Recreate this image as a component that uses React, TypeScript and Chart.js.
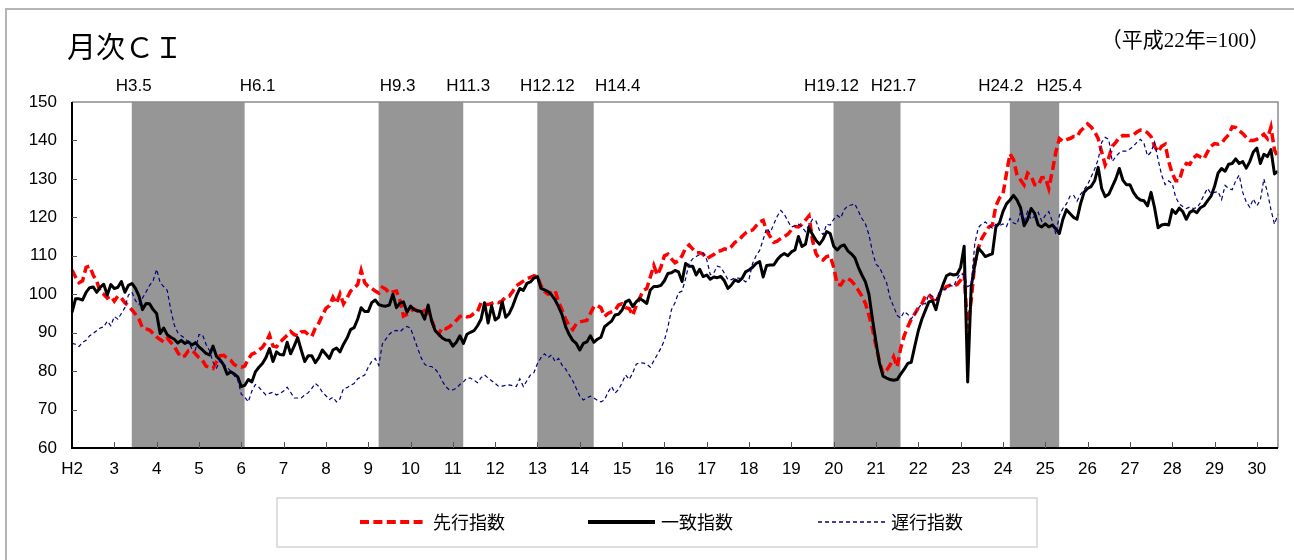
import React, { useEffect, useRef } from "react";
import { Chart, registerables } from "chart.js";

Chart.register(...registerables);

// Monthly categories: H2.1 (Jan 1990) ... H30.7
const MONTH_LABELS: string[] = [];
for (let y = 2; y <= 30; y++) {
  for (let m = 1; m <= 12; m++) {
    if (y === 30 && m > 7) break;
    MONTH_LABELS.push(`H${y}.${m}`);
  }
}

// 先行指数 (leading index)
const LEADING: number[] = [
  106.3, 104.5, 103, 103.5, 107, 107.3, 105, 103.4, 100.7, 100, 99, 99.5,
  98.2, 99.5, 99, 97.8, 97, 95.9, 94.8, 93.5, 91.2, 91, 90.7, 89.8,
  88.9, 88.2, 87.6, 88.6, 87.5, 86.5, 84.8, 83.6, 84, 85.3, 85.5, 84.5,
  83.5, 82.8, 81.3, 81, 80.7, 82.5, 84, 84.1, 83.4, 82.8, 81.7, 81.2,
  81, 81.3, 83.2, 84.4, 84.8, 85.5, 86.2, 87.5, 89.4, 86.5, 86.3, 87.5,
  88.4, 89.3, 90.3, 89.5, 89.2, 90.2, 90.3, 89.5, 89, 91.2, 92.5, 94.5,
  96.3, 97, 99.2, 97.6, 100.1, 97.5, 99, 100.8, 101.6, 102.5, 106.2, 103,
  102, 101.5, 100.8, 100.3, 101.8, 101.3, 100.2, 100.6, 100.8, 98.4, 94.3, 94.8,
  95.5, 96.2, 95.6, 95.3, 95.8, 95.2, 93.2, 91, 89.6, 91.3, 91, 91.5,
  92.3, 93.2, 94.2, 94.5, 94.1, 94.3, 95, 95.5, 97.8, 97.3, 97.3, 97.6,
  98, 97.8, 98.3, 99.3, 99.5, 100.8, 102.2, 102.8, 103.4, 104, 104.4, 104.8,
  104.6, 102.2, 100.7, 100, 100.5, 101, 98, 95.8, 93.5, 91.8, 90.8, 92.3,
  92.8, 93, 93.2, 95, 96.8, 97.1, 96.5, 94.2, 95, 95.4, 95.8, 97.2,
  97.5, 96.5, 96.3, 94.5, 97, 99, 101, 101.5, 104.5, 107.5, 105, 107,
  110, 110.4, 109.2, 108.2, 108.7, 110, 112, 112.8, 111.8, 110.8, 110.8, 110.4,
  109.2, 109.8, 110.3, 111.2, 111.3, 111.8, 111.6, 112.4, 113.5, 114, 115, 115.9,
  116.5, 116.7, 117.8, 118.8, 119.2, 116.5, 115, 113.5, 113.8, 114.5, 115, 115.6,
  116.7, 117.6, 117.5, 118.2, 119.3, 120.4, 114, 110.5, 109.2, 108.9, 109.8, 110,
  107, 102.6, 102.4, 103.8, 104.1, 103.5, 102.4, 101, 99.5, 97.6, 94.5, 91,
  86.5, 82.5, 79.4, 80.2, 81.6, 83.7, 81.1, 86, 89.2, 91.5, 93.5, 94.9,
  96.5, 97.5, 99.5, 100, 98.8, 97.7, 100, 101, 102, 102.3, 102.1, 102.5,
  103.7, 105.4, 91, 98.5, 108, 112, 114.5, 116, 117.5, 118, 123, 125,
  126, 131.4, 136.5, 135, 131, 129.7, 128.4, 131.5, 130.7, 128.5, 128.3, 130.3,
  130.4, 127.5, 132, 137, 140.5, 139.8, 140.2, 140.5, 141, 141, 142.5, 143.3,
  144.3, 143.5, 142.3, 140.5, 137, 133.6, 135.5, 138.5, 139.5, 140.8, 141.3, 141.2,
  141.3, 141.5, 142.2, 142.7, 142.6, 142, 141, 138.5, 137, 138.5, 139, 134.5,
  131.5, 129.5, 129.5, 132.7, 134, 133.8, 135.5, 136.2, 135.7, 135.2, 137, 138.5,
  139.2, 139, 139.3, 140.5, 141.5, 143.5, 143.4, 142.5, 141.8, 140.8, 140, 140,
  140.3, 140.8, 141.6, 140.5, 143.5, 137.5, 135.6,
];

// 一致指数 (coincident index)
const COINCIDENT: number[] = [
  95.3, 98.8, 98.8, 98.5, 100.5, 101.7, 101.9, 100.5, 101.8, 102.6, 99.8, 102.5,
  101.5, 101.8, 103.3, 100.5, 102.3, 102.8, 101.5, 99.5, 96, 97.6, 97.5, 96,
  95, 89.8, 91.2, 89.5, 88.8, 88.3, 87.3, 88, 87.2, 87.6, 86.8, 87.4,
  86.3, 85.5, 84.6, 84.2, 86.5, 83.8, 82.9, 81.6, 79.2, 79.8, 79.3, 78.5,
  76, 76.3, 77.8, 77.2, 79.8, 81, 82, 83.5, 85.9, 82.5, 85, 84.3,
  84.2, 87.5, 84.5, 86.5, 88.7, 85.5, 82.5, 84, 84, 82.2, 83.5, 85.5,
  84.4, 83.3, 85.5, 86, 85, 87, 88.6, 90.8, 91.3, 93.5, 96.5, 95.5,
  95.5, 97.8, 98.5, 97.3, 97, 96.9, 97.2, 100, 96.5, 97.7, 98, 95.3,
  96.9, 96, 95.7, 95.5, 93.5, 97.2, 93, 90.5, 89.6, 88.6, 88.1, 88,
  86.5, 87.5, 89.2, 87.2, 89.6, 90.1, 90.5, 91.8, 93.5, 97.8, 92.5, 97,
  93.3, 94, 98, 94, 95, 97, 99.5, 101.5, 101, 102.8, 103.2, 104.2,
  104.6, 101.5, 101.1, 100.7, 99.8, 98.5, 96.7, 94.6, 91.5, 89.5, 88, 87.2,
  85.5, 87.2, 87.6, 89.2, 87.5, 88.3, 88.8, 91.5, 92.3, 93, 94.6, 94.8,
  95.9, 98, 98.5, 96.8, 98, 98.9, 98.3, 97.6, 101.1, 102, 102, 102.3,
  103.5, 105.4, 105.6, 106.2, 105.8, 103.3, 108, 107.3, 107.3, 105, 106.5, 104.6,
  105, 103.9, 104.5, 104.3, 104.6, 103.5, 101.5, 102.4, 103.7, 103.3, 104.1, 105.8,
  106.3, 107, 108, 108.5, 104.5, 107.5, 107.6, 107.6, 109, 110, 110.6, 110,
  111, 111.5, 115, 112.4, 113, 117.3, 115.5, 114, 113, 114.3, 116.3, 115.8,
  112.5, 111.5, 112.5, 112.8, 111.3, 110.5, 109.5, 107, 105, 103.2, 100, 93.5,
  87.5, 82, 78.7, 78.2, 77.8, 77.6, 77.8, 79.2, 80.5, 82, 82.3, 86.5,
  90.5, 93.5, 95.8, 98, 98.3, 96, 99.8, 102.5, 104.8, 105.3, 105, 105.2,
  107, 112.5, 77.2, 102, 107.5, 112, 111, 109.8, 110.2, 110.5, 117.5, 118.5,
  121.5, 123.5, 124.5, 125.7, 124.5, 122.5, 117.8, 119.5, 122.3, 121, 118, 117.5,
  118.3, 117.5, 118, 117, 115.8, 119.5, 122, 121, 120, 119.5, 123.5, 126.5,
  127.5, 128, 129.5, 133, 127.5, 125.4, 126, 128, 130, 132.7, 129.7, 128.5,
  128.5, 126.5, 125.2, 124.5, 124.3, 123, 126.5, 122.5, 117.3, 118, 118.2, 118,
  122, 121, 122.4, 121.5, 119.5, 121.3, 121.8, 121.2, 122.5, 123, 124.3, 125.5,
  128, 131.5, 132.7, 132, 133.8, 134, 135.2, 134, 134.5, 132.8, 134.5, 137,
  138, 134, 136.4, 135.8, 137.6, 131.3, 132,
];

// 遅行指数 (lagging index)
const LAGGING: number[] = [
  87.2, 87, 86.4, 87.5, 88, 89.2, 89.8, 90.5, 91.2, 91.5, 93, 91.8,
  94.2, 93.5, 95, 96.5, 99.8, 100.5, 98.3, 97.3, 99, 100.6, 102.3, 103.5,
  106.5, 103, 102, 101, 96, 92, 90, 89.2, 88.5, 87.6, 85.8, 85.5,
  89.5, 89.5, 87, 85.3, 82.3, 80.8, 82.9, 81.8, 81, 80, 78.8, 77.8,
  74, 73.2, 72, 74.8, 76.5, 75.8, 74.8, 73.8, 74.2, 74.5, 73.8, 74.2,
  74.8, 75.8, 74.5, 73, 73, 73, 73.8, 74.4, 75.5, 76.8, 76, 74.5,
  73.6, 72.6, 73.2, 72, 72.8, 75.5, 75.7, 76.3, 76.8, 78, 78.5, 79,
  81, 82.5, 83.3, 81.5, 87, 88.3, 89.6, 90.4, 90.6, 90.2, 91.1, 91.6,
  91.2, 88.6, 86, 83.5, 81.8, 81.2, 81.2, 80.5, 79.4, 77.4, 76, 75.1,
  75.1, 75.6, 76.5, 77.2, 78.2, 78.2, 77.6, 77, 78.3, 79, 78.2, 77.5,
  76.8, 76, 76.1, 76.3, 76.4, 76.2, 76, 78, 76, 77.5, 79, 79.6,
  82, 83.5, 84.5, 83.5, 84.2, 82.5, 83.3, 81.5, 80.5, 79, 77.5, 75.5,
  73.5, 72.5, 73, 73.5, 73, 72.4, 72, 72.5, 74.5, 76, 74.3, 75.2,
  77, 79, 77.8, 79.5, 81.8, 82.2, 82.1, 81.8, 81, 82.7, 84.3, 86,
  88, 91.5, 96, 97.8, 100.4, 100.8, 104, 108, 109.2, 109.8, 110.3, 110.7,
  109, 105.1, 105.5, 107.3, 107, 105.5, 103.8, 103.8, 104.2, 104.2, 104, 103.2,
  104, 108, 110, 111.4, 114.2, 117.2, 116, 118.2, 120.3, 121.8, 120.8, 119,
  117.5, 117.8, 118.2, 117.5, 116.3, 118, 119.5, 119, 116.5, 115.5, 118.2, 118,
  119.5, 120.5, 119.8, 122, 123, 123.2, 123.5, 121.6, 119.7, 118.3, 115.5, 111,
  107.8, 107, 105, 103, 99, 96.8, 94.5, 93.8, 95.5, 94.8, 93.6, 94.8,
  96.3, 97.6, 97.5, 100, 99.5, 98.5, 100.6, 101.1, 101.5, 102.3, 102, 104.1,
  105.4, 105, 102, 102.5, 113, 117.3, 118.3, 118.8, 118, 117.2, 118.2, 117.8,
  118.3, 117.6, 119.7, 118.5, 118.2, 121.5, 119, 121.5, 119.5, 120.3, 121.3, 119,
  120.5, 121.5, 119, 115.6, 120.5, 122.3, 123.5, 125.5, 125.8, 124.2, 126, 127.2,
  128.5, 130.5, 132.5, 135, 139.5, 140.8, 140.3, 134.5, 135.8, 136.8, 137.2, 137.2,
  137.8, 138.5, 139.5, 140.3, 139.2, 136, 137, 139.6, 135, 131, 128.5, 129.5,
  128.8, 125.2, 123.5, 122.8, 122.3, 122.7, 122.3, 122.5, 123.8, 125.8, 127.5, 126.2,
  126.5, 126.7, 124.6, 128.3, 127.5, 127.2, 129.5, 131, 126.5, 124, 122.6, 124.8,
  123, 124.5, 130, 126.5, 122, 118.2, 120.8,
];

// Recession shading: peak / trough pairs (also the labels above the plot)
const BAND_MARKS: string[] = [
  "H3.5", "H6.1", "H9.3", "H11.3", "H12.12", "H14.4", "H19.12", "H21.7", "H24.2", "H25.4",
];

const SERIES_NAMES = ["先行指数", "一致指数", "遅行指数"];

const Y_MIN = 60;
const Y_MAX = 150;
const Y_STEP = 10;

// drawing-only settings
const BAND_SHIFT = 0.95;
const LABEL_SHIFT = [2, 13, 19, 5, 10, 24, -2, -7, -9, 0];
const TICK_FONT = "17px 'Liberation Sans', Arial, sans-serif";

const yearTickLabel = (i: number): string | null => {
  const lab = MONTH_LABELS[i];
  if (!lab || !lab.endsWith(".1")) return null;
  const yr = lab.slice(1, lab.indexOf("."));
  return i === 0 ? `H${yr}` : yr;
};

const overlayPlugin = {
  id: "overlayPlugin",
  beforeDatasetsDraw(chart: any) {
    const { ctx, chartArea: a, scales } = chart;
    const x = scales.x;
    ctx.save();
    ctx.fillStyle = "rgb(150,150,150)";
    for (let k = 0; k + 1 < BAND_MARKS.length; k += 2) {
      const i0 = MONTH_LABELS.indexOf(BAND_MARKS[k]);
      const i1 = MONTH_LABELS.indexOf(BAND_MARKS[k + 1]);
      const x0 = x.getPixelForValue(i0 + BAND_SHIFT);
      const x1 = x.getPixelForValue(i1 + BAND_SHIFT);
      ctx.fillRect(x0, a.top, x1 - x0, a.bottom - a.top);
    }
    ctx.restore();
  },
  afterDatasetsDraw(chart: any) {
    const { ctx, chartArea: a, scales } = chart;
    const x = scales.x;
    const y = scales.y;
    ctx.save();
    // borders
    ctx.lineWidth = 1.5;
    ctx.strokeStyle = "#8c8c8c";
    ctx.beginPath();
    ctx.moveTo(a.left, a.top);
    ctx.lineTo(a.right, a.top);
    ctx.lineTo(a.right, a.bottom);
    ctx.stroke();
    ctx.strokeStyle = "#000";
    ctx.lineWidth = 2;
    ctx.beginPath();
    ctx.moveTo(a.left, a.top);
    ctx.lineTo(a.left, a.bottom);
    ctx.lineTo(a.right, a.bottom);
    ctx.stroke();
    // inward ticks
    ctx.lineWidth = 1;
    ctx.strokeStyle = "#555";
    ctx.beginPath();
    for (let i = 12; i < MONTH_LABELS.length; i += 12) {
      const px = Math.round(x.getPixelForValue(i)) + 0.5;
      ctx.moveTo(px, a.bottom);
      ctx.lineTo(px, a.bottom - 6);
    }
    for (let v = Y_MIN + Y_STEP; v < Y_MAX; v += Y_STEP) {
      const py = Math.round(y.getPixelForValue(v)) + 0.5;
      ctx.moveTo(a.left, py);
      ctx.lineTo(a.left + 5, py);
    }
    ctx.stroke();
    // band labels
    ctx.fillStyle = "#000";
    ctx.font = TICK_FONT;
    ctx.textAlign = "center";
    ctx.textBaseline = "middle";
    BAND_MARKS.forEach((m, k) => {
      const idx = MONTH_LABELS.indexOf(m);
      const px = x.getPixelForValue(idx + BAND_SHIFT) + LABEL_SHIFT[k];
      ctx.fillText(m, px, 86);
    });
    // legend
    ctx.strokeStyle = "#d4d4d4";
    ctx.lineWidth = 1.5;
    ctx.strokeRect(277, 498, 760, 49);
    const lx = [360, 588, 818];
    chart.data.datasets.forEach((ds: any, k: number) => {
      ctx.save();
      ctx.strokeStyle = ds.borderColor;
      ctx.lineWidth = k === 2 ? 1.3 : 4;
      ctx.setLineDash(ds.borderDash || []);
      ctx.beginPath();
      ctx.moveTo(lx[k], 522);
      ctx.lineTo(lx[k] + 67, 522);
      ctx.stroke();
      ctx.restore();
      ctx.fillStyle = "#000";
      ctx.font = "18px 'Noto Sans CJK JP', sans-serif";
      ctx.textAlign = "left";
      ctx.textBaseline = "middle";
      ctx.fillText(ds.label, lx[k] + 73, 522);
    });
    ctx.restore();
  },
};

export default function App() {
  const canvasRef = useRef<HTMLCanvasElement | null>(null);

  useEffect(() => {
    if (!canvasRef.current) return;
    const chart = new Chart(canvasRef.current, {
      type: "line",
      data: {
        labels: MONTH_LABELS,
        datasets: [
          {
            label: SERIES_NAMES[0],
            data: LEADING,
            borderColor: "#ff0000",
            borderWidth: 3.5,
            borderDash: [9, 4.4],
            pointRadius: 0,
            tension: 0,
            fill: false,
            order: 2,
          },
          {
            label: SERIES_NAMES[1],
            data: COINCIDENT,
            borderColor: "#000000",
            borderWidth: 3,
            borderJoinStyle: "round",
            pointRadius: 0,
            tension: 0,
            fill: false,
            order: 1,
          },
          {
            label: SERIES_NAMES[2],
            data: LAGGING,
            borderColor: "#000080",
            borderWidth: 1.2,
            borderDash: [4, 3],
            pointRadius: 0,
            tension: 0,
            fill: false,
            order: 0,
          },
        ],
      },
      options: {
        animation: false,
        responsive: false,
        maintainAspectRatio: false,
        layout: { padding: { left: 8, right: 16, top: 102, bottom: 82 } },
        plugins: {
          legend: { display: false },
          tooltip: { enabled: false },
          title: { display: false },
        },
        scales: {
          x: {
            type: "category",
            offset: false,
            grid: { display: false, drawTicks: false },
            border: { display: false },
            ticks: {
              autoSkip: false,
              maxRotation: 0,
              minRotation: 0,
              padding: 11,
              color: "#000",
              font: { family: "'Liberation Sans', Arial, sans-serif", size: 17 },
              callback: (_v: any, i: number) => yearTickLabel(i),
            },
            afterFit: (s: any) => {
              s.height = 30;
            },
          },
          y: {
            min: Y_MIN,
            max: Y_MAX,
            grid: { display: false, drawTicks: false },
            border: { display: false },
            ticks: {
              stepSize: Y_STEP,
              padding: 15,
              color: "#000",
              font: { family: "'Liberation Sans', Arial, sans-serif", size: 17 },
            },
            afterFit: (s: any) => {
              s.width = 64;
            },
          },
        },
      } as any,
      plugins: [overlayPlugin],
    });
    return () => chart.destroy();
  }, []);

  return (
    <div
      style={{
        position: "absolute",
        left: 0,
        top: 0,
        width: 1294,
        height: 560,
        background: "#fff",
        overflow: "hidden",
      }}
    >
      <div
        style={{
          position: "absolute",
          left: 5,
          top: 8,
          width: 1400,
          height: 700,
          borderTop: "2px solid #b4b4b4",
          borderLeft: "2px solid #b4b4b4",
        }}
      />
      <canvas
        ref={canvasRef}
        width={1294}
        height={560}
        style={{ position: "absolute", left: 0, top: 0, width: 1294, height: 560 }}
      />
      <div
        style={{
          position: "absolute",
          left: 67,
          top: 31,
          fontSize: 29,
          lineHeight: "29px",
          fontFamily: "'Noto Sans CJK JP', sans-serif",
          color: "#000",
          whiteSpace: "nowrap",
        }}
      >
        月次ＣＩ
      </div>
      <div
        style={{
          position: "absolute",
          right: 24,
          top: 30,
          fontSize: 21,
          lineHeight: "21px",
          fontFamily: "'Liberation Serif', 'Noto Sans CJK JP', serif",
          color: "#000",
          whiteSpace: "nowrap",
        }}
      >
        （平成22年=100）
      </div>
    </div>
  );
}
